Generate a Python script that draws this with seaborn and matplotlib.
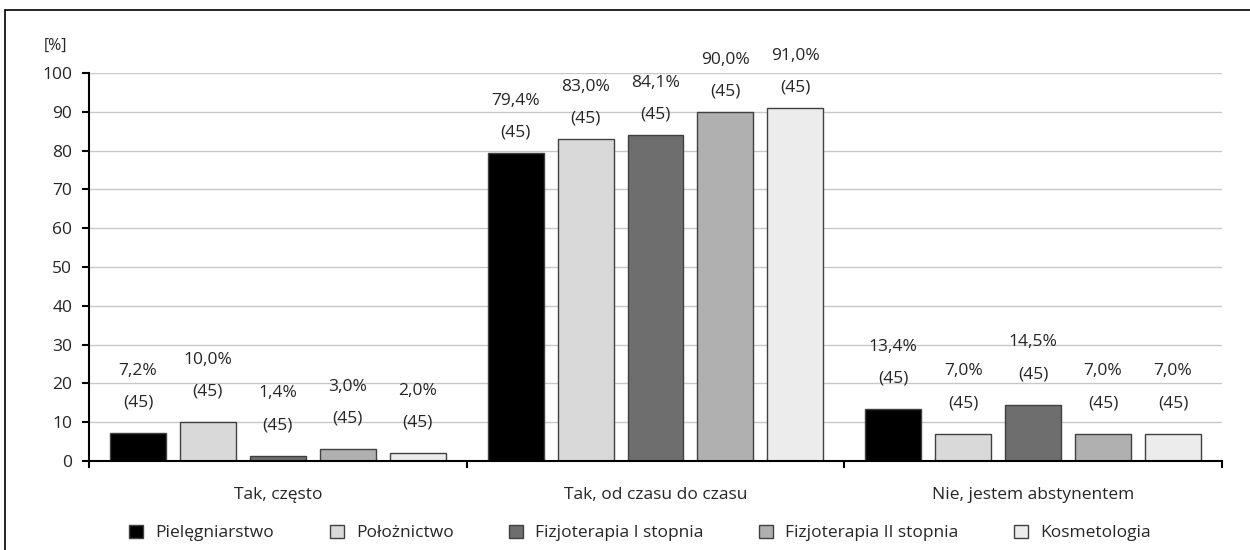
import matplotlib
matplotlib.use("Agg")
import matplotlib.pyplot as plt
import seaborn as sns
import pandas as pd
from matplotlib.patches import Rectangle

# data
answers = ["Tak, często", "Tak, od czasu do czasu", "Nie, jestem abstynentem"]
kierunki = ["Pielęgniarstwo", "Położnictwo", "Fizjoterapia I stopnia",
            "Fizjoterapia II stopnia", "Kosmetologia"]
pielegniarstwo = [7.2, 79.4, 13.4]
poloznictwo = [10.0, 83.0, 7.0]
fizjo_1 = [1.4, 84.1, 14.5]
fizjo_2 = [3.0, 90.0, 7.0]
kosmetologia = [2.0, 91.0, 7.0]
n_label = "(45)"

colors = ["#000000", "#d9d9d9", "#6e6e6e", "#b0b0b0", "#ececec"]

rows = []
for name, vals in zip(kierunki, [pielegniarstwo, poloznictwo, fizjo_1, fizjo_2, kosmetologia]):
    for a, v in zip(answers, vals):
        rows.append({"odp": a, "kierunek": name, "pct": v})
df = pd.DataFrame(rows)

sns.set_style("white")
plt.rcParams["font.family"] = ["Open Sans", "DejaVu Sans"]
fs = 12.5

fig = plt.figure(figsize=(12.5, 5.5), dpi=100)
ax = fig.add_axes([0.0712, 0.1618, 0.9064, 0.7055])

sns.barplot(data=df, x="odp", y="pct", hue="kierunek", order=answers,
            hue_order=kierunki, palette=colors, width=0.926, gap=0.2,
            edgecolor="#404040", linewidth=1, ax=ax, legend=True)

ax.set_ylim(0, 100)
ax.set_xlim(-0.5, 2.5)
ax.set_yticks(range(0, 101, 10))
ax.yaxis.grid(True, color="#c8c8c8", linewidth=1)
ax.set_axisbelow(True)
ax.set_xlabel("")
ax.set_ylabel("")
sns.despine(ax=ax, top=True, right=True)
ax.spines["left"].set_color("black")
ax.spines["left"].set_linewidth(1.5)
ax.spines["bottom"].set_color("black")
ax.spines["bottom"].set_linewidth(1.5)
ax.tick_params(axis="y", left=True, length=5, width=1.5, color="black", labelsize=fs, pad=7)
ax.tick_params(axis="x", bottom=False, labelsize=fs, pad=15)
ax.set_xticks([-0.5, 0.5, 1.5, 2.5], minor=True)
ax.tick_params(axis="x", which="minor", bottom=True, length=5, width=1.5, color="black")

# value labels
offs = [22, 14.5, 22]
for cont in ax.containers:
    for i, bar in enumerate(cont):
        h = bar.get_height()
        xc = bar.get_x() + bar.get_width() / 2
        txt = f"{h:.1f}%".replace(".", ",")
        ax.annotate(n_label, (xc, h), xytext=(0, offs[i]), textcoords="offset points",
                    ha="center", va="center", fontsize=fs)
        ax.annotate(txt, (xc, h), xytext=(0, offs[i] + 23), textcoords="offset points",
                    ha="center", va="center", fontsize=fs)

ax.text(-0.03, 1.07, "[%]", transform=ax.transAxes, ha="center", va="center", fontsize=11.5)

ax.legend_.remove()
handles = [Rectangle((0, 0), 1, 1, facecolor=c, edgecolor="#404040", linewidth=1) for c in colors]
fig.legend(handles, kierunki, loc="center", bbox_to_anchor=(0.512, 0.031), ncol=5,
           frameon=False, fontsize=fs, handlelength=0.8, handleheight=0.8,
           columnspacing=3.2, handletextpad=0.7)

# frame around the figure
fig.patches.append(Rectangle((0.004, -0.05), 1.2, 0.05 + 0.982, transform=fig.transFigure,
                             fill=False, edgecolor="black", linewidth=1.2))

fig.savefig("out.png", dpi=100)
